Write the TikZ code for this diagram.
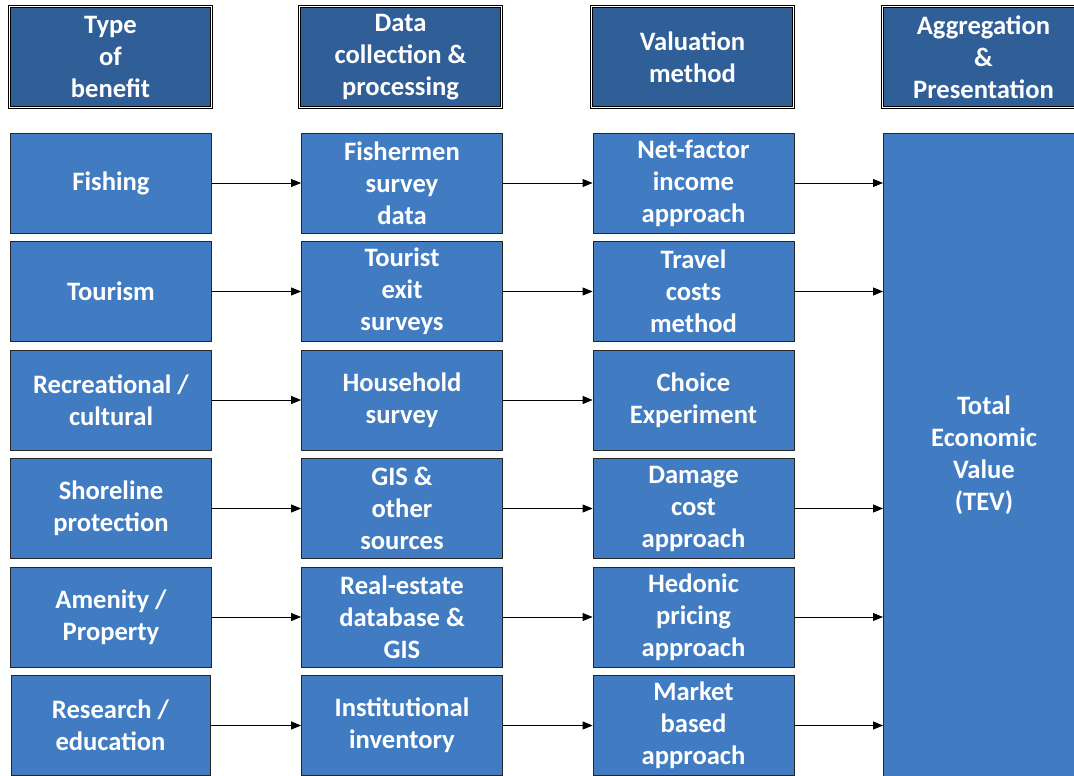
\documentclass[tikz,border=0pt]{standalone}
\usepackage{fontspec}
\setmainfont{Carlito}
\usetikzlibrary{arrows.meta}
\definecolor{hdrblue}{RGB}{48,95,152}
\definecolor{boxblue}{RGB}{65,124,194}
\tikzset{
  txt/.style={font=\bfseries\fontsize{26.6}{32}\selectfont, text=white, align=center, inner sep=0pt,
     execute at begin node={\vspace*{4pt}}},
  hdrbox/.style={txt, fill=hdrblue, draw=black, line width=0.9pt, double=white, double distance=0.9pt,
     minimum width=202pt, minimum height=101pt},
  bodybox/.style={txt, fill=boxblue, draw=black!85, line width=0.8pt, minimum width=201pt, minimum height=100pt},
  conn/.style={draw=black, line width=0.8pt, -{Triangle[length=10pt,width=8pt]}, shorten >=0pt}
}
\begin{document}
\begin{tikzpicture}[x=1pt,y=-1pt]
\clip (0,0) rectangle (1074,776);
\fill[white] (0,0) rectangle (1074,776);
% headers
\node[hdrbox] (h1) at (110.5,57) {Type\\of\\benefit};
\node[hdrbox] (h2) at (400.5,57) {Data\\collection \&\\processing};
\node[hdrbox] (h3) at (692.5,57) {Valuation\\method};
\node[hdrbox] (h4) at (983.5,57) {Aggregation\\\&\\Presentation};
% column 1
\node[bodybox] (a1) at (111,183) {Fishing};
\node[bodybox] (a2) at (111,291.5) {Tourism};
\node[bodybox] (a3) at (111,400) {Recreational /\\cultural};
\node[bodybox] (a4) at (111,508.5) {Shoreline\\protection};
\node[bodybox] (a5) at (111,617) {Amenity /\\Property};
\node[bodybox, minimum width=199pt] (a6) at (110.5,725.5) {Research /\\education};
% column 2
\node[bodybox] (b1) at (402,183) {Fishermen\\survey\\data};
\node[bodybox] (b2) at (402,291.5) {Tourist\\exit\\surveys};
\node[bodybox] (b3) at (402,400) {Household\\survey};
\node[bodybox] (b4) at (402,508.5) {GIS \&\\other\\sources};
\node[bodybox] (b5) at (402,617) {Real-estate\\database \&\\GIS};
\node[bodybox] (b6) at (402,725.5) {Institutional\\inventory};
% column 3
\node[bodybox] (c1) at (693.5,183) {Net-factor\\income\\approach};
\node[bodybox] (c2) at (693.5,291.5) {Travel\\costs\\method};
\node[bodybox] (c3) at (693.5,400) {Choice\\Experiment};
\node[bodybox] (c4) at (693.5,508.5) {Damage\\cost\\approach};
\node[bodybox] (c5) at (693.5,617) {Hedonic\\pricing\\approach};
\node[bodybox] (c6) at (693.5,725.5) {Market\\based\\approach};
% TEV
\node[bodybox, minimum width=204pt, minimum height=660pt, anchor=north west] (tev) at (883,133) {};
\node[txt] (tevtxt) at (984,455) {Total\\Economic\\Value\\(TEV)};
% connectors
\foreach \i in {1,...,6}{
  \draw[conn] (a\i.east) -- (b\i.west);
  \draw[conn] (b\i.east) -- (c\i.west);
}
\foreach \i in {1,2,4,5,6}{
  \draw[conn] (c\i.east) -- (c\i.east -| tev.west);
}
\end{tikzpicture}
\end{document}
